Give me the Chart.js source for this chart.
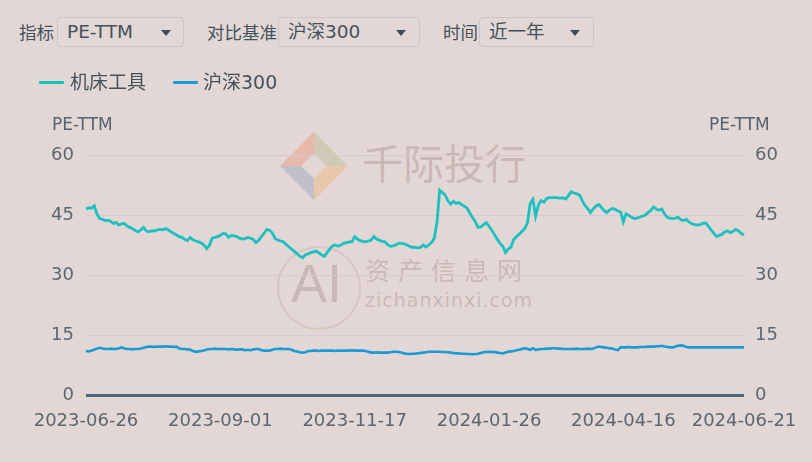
<!DOCTYPE html>
<html>
<head>
<meta charset="utf-8">
<script src="https://cdn.jsdelivr.net/npm/chart.js@4.4.0/dist/chart.umd.min.js"></script>
<style>
  html, body { margin: 0; padding: 0; }
  body {
    width: 812px; height: 462px; overflow: hidden; position: relative;
    background: #e2d7d4; color: #43525d;
    font-family: "DejaVu Sans", "Noto Sans CJK SC", sans-serif;
  }
  .abs { position: absolute; white-space: nowrap; }
  .lbl { font-size: 17.5px; top: 22px; line-height: 22px; }
  .box {
    top: 17px; height: 30px; border: 1px solid #cbc4cd; border-radius: 4px;
    box-sizing: border-box; font-size: 18.5px; line-height: 28px; padding-left: 9px;
  }
  .tri {
    position: absolute; top: 12px; width: 0; height: 0;
    border-left: 5px solid transparent; border-right: 5px solid transparent;
    border-top: 6px solid #3e4c57;
  }
  .leg { top: 71px; font-size: 19px; line-height: 22px; }
  .swatch { top: 81px; height: 3px; border-radius: 1px; }
  .axtitle { top: 113px; font-size: 17px; line-height: 22px; color: #55636e; }
  .wm { color: rgba(150, 118, 118, 0.32); font-family: "Noto Sans CJK SC", sans-serif; }
  canvas { position: absolute; left: 0; top: 130px; }
</style>
</head>
<body>

<!-- watermark, sits under the canvas -->
<div class="abs" style="left:290px;top:142px;width:48px;height:48px;box-sizing:border-box;transform:rotate(45deg);
  border-left:15px solid rgba(236,150,120,0.45);border-top:15px solid rgba(185,185,145,0.45);
  border-right:15px solid rgba(240,180,120,0.45);border-bottom:15px solid rgba(150,165,195,0.45);"></div>
<div class="abs wm" style="left:362px;top:133px;font-size:41px;line-height:56px;">千际投行</div>
<div class="abs" style="left:277px;top:246px;width:80px;height:80px;border-radius:50%;border:2px solid rgba(170,140,140,0.22);"></div>
<div class="abs wm" style="left:291px;top:252px;font-size:54px;line-height:62px;font-family:'Liberation Sans',sans-serif;font-weight:300;">AI</div>
<div class="abs wm" style="left:365px;top:253px;font-size:25px;line-height:32px;letter-spacing:8px;">资产信息网</div>
<div class="abs wm" style="left:365px;top:288px;font-size:19px;line-height:24px;letter-spacing:1px;font-family:'DejaVu Sans',sans-serif;">zichanxinxi.com</div>

<canvas id="peChart" width="812" height="310"></canvas>

<!-- selectors -->
<div class="abs lbl" style="left:19px;">指标</div>
<div class="abs box" style="left:57px;width:127px;">PE-TTM<span class="tri" style="left:103px;"></span></div>
<div class="abs lbl" style="left:207px;">对比基准</div>
<div class="abs box" style="left:278px;width:142px;">沪深300<span class="tri" style="left:117px;"></span></div>
<div class="abs lbl" style="left:443px;">时间</div>
<div class="abs box" style="left:479px;width:115px;">近一年<span class="tri" style="left:90px;"></span></div>

<!-- legend -->
<div class="abs swatch" style="left:39px;width:25px;background:#1dc0c0;"></div>
<div class="abs leg" style="left:70px;">机床工具</div>
<div class="abs swatch" style="left:173px;width:25px;background:#1a9ad6;"></div>
<div class="abs leg" style="left:203px;">沪深300</div>

<div class="abs axtitle" style="left:52px;">PE-TTM</div>
<div class="abs axtitle" style="left:709px;">PE-TTM</div>

<script>
// trading calendar: 2023-06-26 .. 2024-06-21, SSE closing days
const startDay = "2023-06-26";
const endDay = "2024-06-21";
const closedDays = [
  "2023-09-29", "2023-10-02", "2023-10-03", "2023-10-04", "2023-10-05", "2023-10-06",
  "2024-01-01", "2024-02-09", "2024-02-12", "2024-02-13", "2024-02-14", "2024-02-15",
  "2024-02-16", "2024-04-04", "2024-04-05", "2024-05-01", "2024-05-02", "2024-05-03",
  "2024-06-10"
];

const tickLabels = ["2023-06-26", "2023-09-01", "2023-11-17", "2024-01-26", "2024-04-16", "2024-06-21"];
const yTicks = [0, 15, 30, 45, 60];

// 机床工具 PE-TTM
const machineTools = [
  46.5, 46.8, 46.7, 47.3, 45.2, 44.1, 43.9, 43.6, 43.7, 43.4,
  42.9, 43.1, 42.5, 42.8, 42.9, 42.2, 41.9, 41.6, 41.1, 40.8,
  41.3, 41.9, 41.0, 40.8, 41.1, 41.0, 41.3, 41.4, 41.3, 41.6,
  41.3, 40.8, 40.4, 40.0, 39.6, 39.4, 38.9, 38.6, 39.4, 38.8,
  38.5, 38.3, 38.0, 37.5, 36.6, 37.4, 39.2, 39.4, 39.6, 39.9,
  40.4, 40.3, 39.4, 39.9, 39.8, 39.6, 39.2, 39.0, 39.1, 39.4,
  39.2, 38.9, 38.1, 38.7, 39.6, 40.5, 41.4, 41.2, 40.4, 39.1,
  38.7, 38.5, 38.3, 37.6, 37.0, 36.5, 35.9, 35.3, 34.7, 34.3,
  35.0, 35.3, 35.6, 35.8, 36.0, 35.5, 35.0, 34.7, 35.7, 36.6,
  37.3, 37.5, 37.2, 37.5, 37.9, 38.1, 38.3, 38.3, 39.6, 39.0,
  38.6, 38.4, 38.3, 38.5, 38.7, 39.6, 39.0, 38.7, 38.4, 38.3,
  37.6, 37.2, 37.3, 37.5, 37.9, 37.9, 37.8, 37.5, 37.2, 36.9,
  36.9, 36.8, 36.9, 37.5, 37.0, 37.5, 38.1, 39.1, 43.0, 51.2,
  50.6, 50.0, 48.6, 47.7, 48.4, 47.9, 48.1, 47.6, 47.2, 46.7,
  45.5, 44.4, 43.3, 41.9, 42.0, 42.6, 43.1, 42.2, 41.2, 40.1,
  38.9, 37.9, 37.2, 35.6, 36.5, 37.0, 38.9, 39.6, 40.2, 40.9,
  41.6, 43.0, 47.8, 48.9, 44.7, 47.5, 48.6, 48.2, 49.1, 49.4,
  49.3, 49.4, 49.3, 49.2, 49.3, 49.0, 49.9, 50.8, 50.5, 50.3,
  50.0, 48.6, 47.4, 46.6, 45.6, 46.5, 47.2, 47.6, 46.9, 46.1,
  45.6, 46.3, 46.6, 46.4, 46.0, 45.8, 43.3, 45.3, 44.9, 44.4,
  44.1, 44.2, 44.5, 44.7, 45.0, 45.6, 46.1, 47.0, 46.5, 46.2,
  46.5, 45.3, 44.4, 44.2, 44.1, 44.2, 44.4, 43.8, 43.6, 43.9,
  43.2, 42.8, 42.6, 42.5, 42.6, 42.9, 43.0, 42.2, 41.3, 40.4,
  39.6, 39.9, 40.2, 40.8, 41.0, 40.6, 40.9, 41.4, 41.0, 40.4,
  40.0
];

// 沪深300 PE-TTM
const csi300 = [
  11.0, 10.9, 11.1, 11.3, 11.6, 11.8, 11.6, 11.5, 11.5, 11.6,
  11.5, 11.5, 11.7, 11.9, 11.6, 11.5, 11.5, 11.4, 11.5, 11.5,
  11.6, 11.8, 12.0, 12.1, 12.1, 12.0, 12.1, 12.1, 12.1, 12.2,
  12.1, 12.1, 12.0, 12.1, 11.6, 11.5, 11.5, 11.4, 11.3, 11.0,
  10.8, 10.9, 11.0, 11.1, 11.4, 11.5, 11.5, 11.6, 11.5, 11.5,
  11.5, 11.5, 11.4, 11.5, 11.4, 11.3, 11.4, 11.4, 11.2, 11.3,
  11.2, 11.4, 11.5, 11.5, 11.2, 11.1, 11.1, 11.1, 11.3, 11.5,
  11.5, 11.6, 11.5, 11.5, 11.5, 11.3, 11.0, 10.9, 10.7, 10.6,
  10.7, 11.0, 11.0, 11.1, 11.1, 11.0, 11.1, 11.1, 11.1, 11.1,
  11.1, 11.0, 11.1, 11.1, 11.1, 11.1, 11.1, 11.2, 11.1, 11.1,
  11.1, 11.1, 11.0, 10.8, 10.6, 10.6, 10.7, 10.6, 10.6, 10.6,
  10.6, 10.7, 10.8, 10.8, 10.75, 10.6, 10.4, 10.3, 10.25, 10.3,
  10.3, 10.4, 10.5, 10.6, 10.7, 10.8, 10.8, 10.8, 10.8, 10.8,
  10.75, 10.75, 10.7, 10.6, 10.5, 10.4, 10.4, 10.3, 10.3, 10.25,
  10.25, 10.2, 10.25, 10.3, 10.5, 10.7, 10.75, 10.8, 10.75, 10.75,
  10.6, 10.5, 10.4, 10.6, 10.8, 10.9, 11.0, 11.2, 11.3, 11.5,
  11.7, 11.5, 11.3, 11.7, 11.3, 11.4, 11.5, 11.5, 11.6, 11.6,
  11.7, 11.7, 11.6, 11.6, 11.5, 11.5, 11.5, 11.5, 11.5, 11.6,
  11.5, 11.5, 11.5, 11.6, 11.5, 11.6, 11.9, 12.1, 12.0, 11.9,
  11.8, 11.7, 11.6, 11.4, 11.25, 11.9, 11.9, 11.9, 12.0, 11.9,
  11.9, 11.9, 12.0, 12.0, 12.0, 12.1, 12.1, 12.1, 12.2, 12.2,
  12.3, 12.1, 12.0, 11.9, 11.9, 12.1, 12.3, 12.4, 12.3, 12.0,
  11.9, 11.9, 11.9, 11.9, 11.9, 11.9, 11.9, 11.9, 11.9, 11.9,
  11.9, 11.9, 11.9, 11.9, 11.9, 11.9, 11.9, 11.9, 11.9, 11.9,
  11.9
];

function tradingDays(start, end, closed) {
  const out = [];
  const d = new Date(start + "T00:00:00Z");
  const last = new Date(end + "T00:00:00Z");
  while (d <= last) {
    const s = d.toISOString().slice(0, 10);
    const wd = d.getUTCDay();
    if (wd !== 0 && wd !== 6 && !closed.includes(s)) out.push(s);
    d.setUTCDate(d.getUTCDate() + 1);
  }
  return out;
}

const days = tradingDays(startDay, endDay, closedDays);

const tickFont = { family: "DejaVu Sans", size: 18 };
const tickColor = "#5a6670";

new Chart(document.getElementById("peChart").getContext("2d"), {
  type: "line",
  data: {
    labels: days,
    datasets: [
      {
        label: "机床工具",
        data: machineTools,
        borderColor: "#1dc0c0",
        borderWidth: 2.8,
        pointRadius: 0,
        tension: 0
      },
      {
        label: "沪深300",
        data: csi300,
        borderColor: "#1a9ad6",
        borderWidth: 2.6,
        pointRadius: 0,
        tension: 0
      }
    ]
  },
  options: {
    responsive: false,
    animation: false,
    devicePixelRatio: 1,
    layout: { padding: { top: 25, left: 0, right: 0, bottom: 0 } },
    plugins: {
      legend: { display: false },
      tooltip: { enabled: false }
    },
    scales: {
      x: {
        grid: { display: false },
        border: { display: false },
        ticks: {
          autoSkip: false,
          maxRotation: 0,
          padding: 8,
          color: tickColor,
          font: tickFont,
          callback: function (value) {
            const lab = this.getLabelForValue(value);
            return tickLabels.includes(lab) ? lab : null;
          }
        },
        afterFit: (scale) => { scale.height = 45; }
      },
      y: {
        position: "left",
        min: 0,
        max: 60,
        afterBuildTicks: (scale) => { scale.ticks = yTicks.map(v => ({ value: v })); },
        grid: {
          drawTicks: false,
          color: (ctx) => ctx.tick && ctx.tick.value === 0 ? "#4d6a7c" : "#d6c9d5",
          lineWidth: (ctx) => ctx.tick && ctx.tick.value === 0 ? 3 : 1
        },
        border: { display: false },
        ticks: { padding: 12, color: tickColor, font: tickFont },
        afterFit: (scale) => { scale.width = 86; }
      },
      y1: {
        position: "right",
        min: 0,
        max: 60,
        afterBuildTicks: (scale) => { scale.ticks = yTicks.map(v => ({ value: v })); },
        grid: { display: false, drawTicks: false },
        border: { display: false },
        ticks: { padding: 11, color: tickColor, font: tickFont },
        afterFit: (scale) => { scale.width = 68; }
      }
    }
  }
});
</script>
</body>
</html>
